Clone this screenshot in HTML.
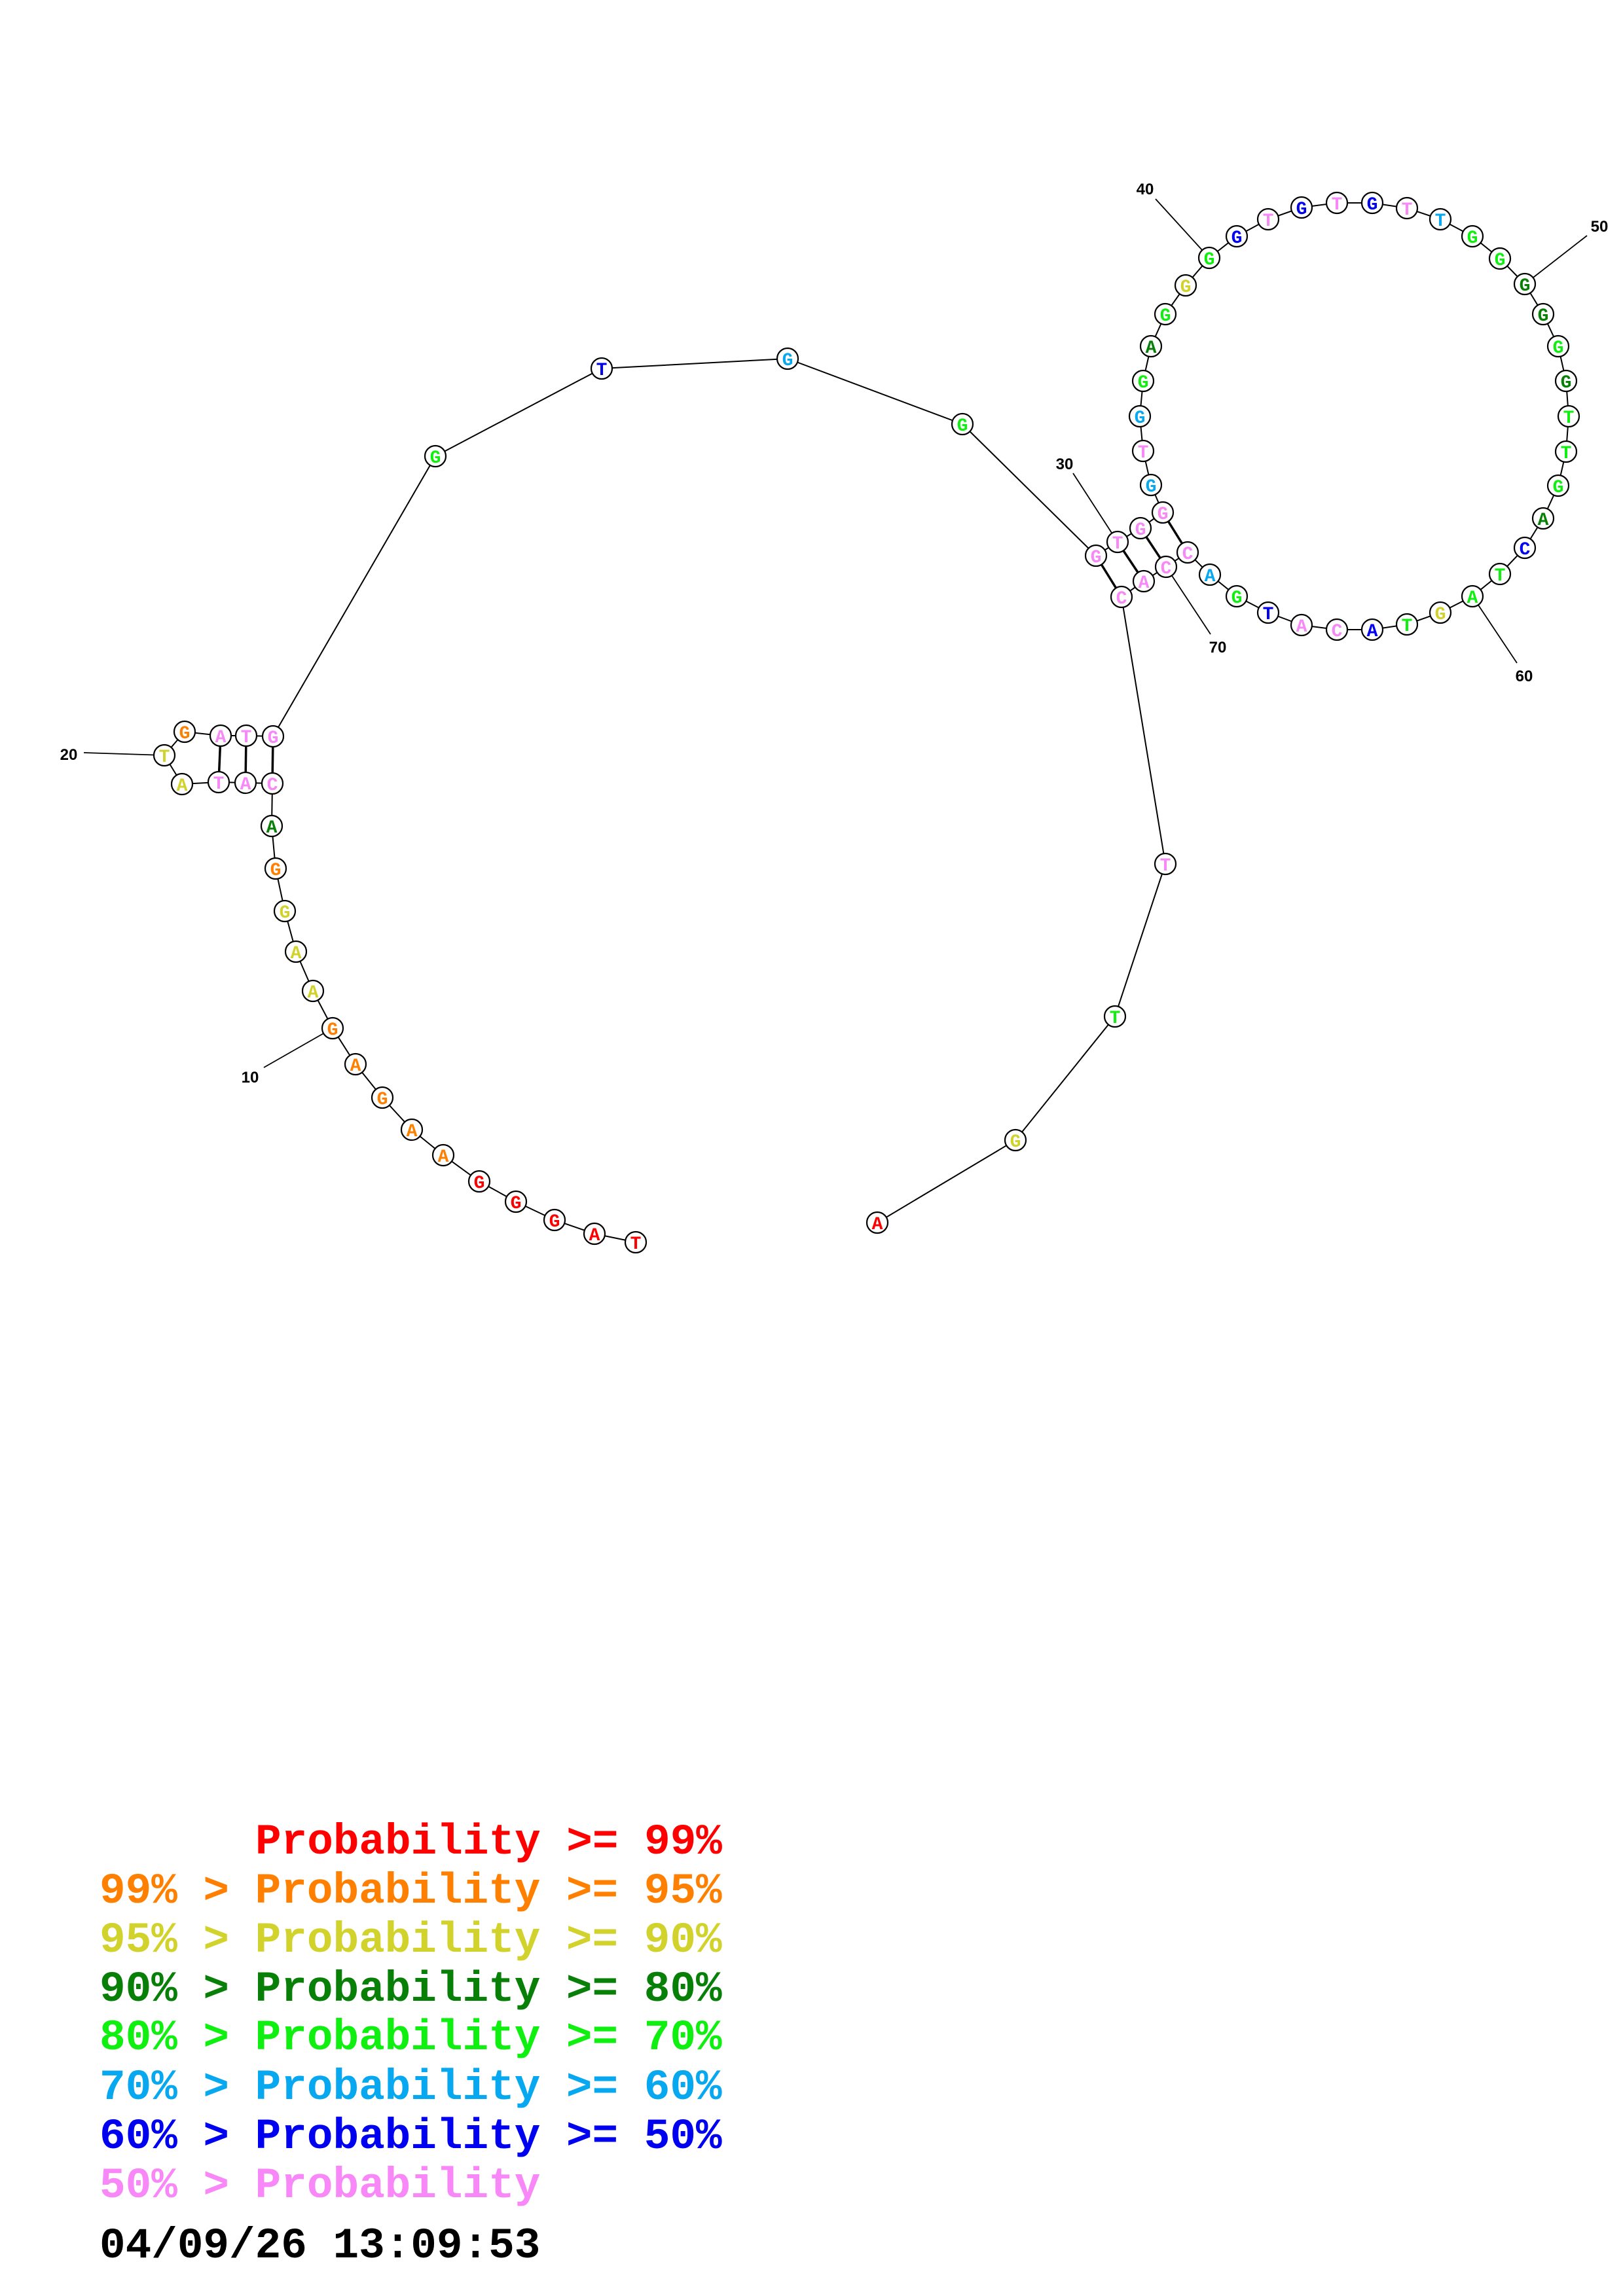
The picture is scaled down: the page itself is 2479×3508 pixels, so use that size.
<!DOCTYPE html>
<html>
<head>
<meta charset="utf-8">
<style>
html,body{margin:0;padding:0;background:#fff;}
svg{display:block;}
.n{font-family:"Liberation Mono",monospace;font-weight:bold;font-size:28px;text-anchor:middle;}
.lb{font-family:"Liberation Sans",sans-serif;font-weight:bold;font-size:24px;text-anchor:middle;fill:#000;}
.lg{font-family:"Liberation Mono",monospace;font-weight:bold;font-size:66px;white-space:pre;}
</style>
</head>
<body>
<svg width="2479" height="3508" viewBox="0 0 2479 3508" xmlns="http://www.w3.org/2000/svg">
<rect width="2479" height="3508" fill="#fff"/>
<!-- backbone -->
<polyline fill="none" stroke="#000" stroke-width="2" points="
971,1898 908,1885 847,1864 788,1836 732,1805 677,1765 629,1726 584,1677 543,1626 508,1571
478,1514 452,1454 435,1392 421,1327 415,1262 416,1197 375,1196 334,1195 278,1198 251,1154
282,1118 337,1124 376,1124 417,1125 665,697 919,563 1203,548 1470,648 1674,849 1707,828
1742,807 1776,783 1758,741 1746,689 1741,636 1746,582 1758,529 1780,480 1811,436 1847,394
1889,361 1937,335 1988,317 2042,310 2096,310 2149,318 2200,335 2249,361 2291,395 2329,434
2357,480 2380,529 2392,582 2396,636 2392,690 2380,742 2357,792 2329,837 2291,877 2249,911
2200,936 2149,954 2096,962 2042,962 1988,955 1937,936 1889,911 1848,878 1814,844 1781,866
1747,888 1713,912 1780,1320 1703,1553 1551,1742 1340,1868"/>
<!-- pairs -->
<g stroke="#000" stroke-width="3.5">
<line x1="416" y1="1197" x2="417" y2="1125"/>
<line x1="375" y1="1196" x2="376" y2="1124"/>
<line x1="334" y1="1195" x2="337" y2="1124"/>
<line x1="1674" y1="849" x2="1713" y2="912"/>
<line x1="1707" y1="828" x2="1747" y2="888"/>
<line x1="1742" y1="807" x2="1781" y2="866"/>
<line x1="1776" y1="783" x2="1814" y2="844"/>
</g>
<!-- label lines -->
<g stroke="#000" stroke-width="1.8">
<line x1="508" y1="1571" x2="403" y2="1631"/>
<line x1="251" y1="1154" x2="128" y2="1150"/>
<line x1="1707" y1="828" x2="1639" y2="723"/>
<line x1="1847" y1="394" x2="1765" y2="304"/>
<line x1="2329" y1="434" x2="2424" y2="360"/>
<line x1="2249" y1="911" x2="2317" y2="1013"/>
<line x1="1781" y1="866" x2="1849" y2="969"/>
</g>
<!-- labels -->
<text class="lb" x="382" y="1654">10</text>
<text class="lb" x="105" y="1161">20</text>
<text class="lb" x="1626" y="717">30</text>
<text class="lb" x="1749" y="297">40</text>
<text class="lb" x="2443" y="354">50</text>
<text class="lb" x="2328" y="1041">60</text>
<text class="lb" x="1860" y="997">70</text>
<!-- circles -->
<g fill="#fff" stroke="#000" stroke-width="2.2">
<circle cx="971" cy="1898" r="16"/><circle cx="908" cy="1885" r="16"/><circle cx="847" cy="1864" r="16"/><circle cx="788" cy="1836" r="16"/><circle cx="732" cy="1805" r="16"/>
<circle cx="677" cy="1765" r="16"/><circle cx="629" cy="1726" r="16"/><circle cx="584" cy="1677" r="16"/><circle cx="543" cy="1626" r="16"/><circle cx="508" cy="1571" r="16"/>
<circle cx="478" cy="1514" r="16"/><circle cx="452" cy="1454" r="16"/><circle cx="435" cy="1392" r="16"/><circle cx="421" cy="1327" r="16"/><circle cx="415" cy="1262" r="16"/>
<circle cx="416" cy="1197" r="16"/><circle cx="375" cy="1196" r="16"/><circle cx="334" cy="1195" r="16"/><circle cx="278" cy="1198" r="16"/><circle cx="251" cy="1154" r="16"/>
<circle cx="282" cy="1118" r="16"/><circle cx="337" cy="1124" r="16"/><circle cx="376" cy="1124" r="16"/><circle cx="417" cy="1125" r="16"/><circle cx="665" cy="697" r="16"/>
<circle cx="919" cy="563" r="16"/><circle cx="1203" cy="548" r="16"/><circle cx="1470" cy="648" r="16"/><circle cx="1674" cy="849" r="16"/><circle cx="1707" cy="828" r="16"/>
<circle cx="1742" cy="807" r="16"/><circle cx="1776" cy="783" r="16"/><circle cx="1758" cy="741" r="16"/><circle cx="1746" cy="689" r="16"/><circle cx="1741" cy="636" r="16"/>
<circle cx="1746" cy="582" r="16"/><circle cx="1758" cy="529" r="16"/><circle cx="1780" cy="480" r="16"/><circle cx="1811" cy="436" r="16"/><circle cx="1847" cy="394" r="16"/>
<circle cx="1889" cy="361" r="16"/><circle cx="1937" cy="335" r="16"/><circle cx="1988" cy="317" r="16"/><circle cx="2042" cy="310" r="16"/><circle cx="2096" cy="310" r="16"/>
<circle cx="2149" cy="318" r="16"/><circle cx="2200" cy="335" r="16"/><circle cx="2249" cy="361" r="16"/><circle cx="2291" cy="395" r="16"/><circle cx="2329" cy="434" r="16"/>
<circle cx="2357" cy="480" r="16"/><circle cx="2380" cy="529" r="16"/><circle cx="2392" cy="582" r="16"/><circle cx="2396" cy="636" r="16"/><circle cx="2392" cy="690" r="16"/>
<circle cx="2380" cy="742" r="16"/><circle cx="2357" cy="792" r="16"/><circle cx="2329" cy="837" r="16"/><circle cx="2291" cy="877" r="16"/><circle cx="2249" cy="911" r="16"/>
<circle cx="2200" cy="936" r="16"/><circle cx="2149" cy="954" r="16"/><circle cx="2096" cy="962" r="16"/><circle cx="2042" cy="962" r="16"/><circle cx="1988" cy="955" r="16"/>
<circle cx="1937" cy="936" r="16"/><circle cx="1889" cy="911" r="16"/><circle cx="1848" cy="878" r="16"/><circle cx="1814" cy="844" r="16"/><circle cx="1781" cy="866" r="16"/>
<circle cx="1747" cy="888" r="16"/><circle cx="1713" cy="912" r="16"/><circle cx="1780" cy="1320" r="16"/><circle cx="1703" cy="1553" r="16"/><circle cx="1551" cy="1742" r="16"/>
<circle cx="1340" cy="1868" r="16"/>
</g>
<!-- nucleotide letters -->
<g class="n">
<text x="971" y="1908" fill="#ff0000">T</text>
<text x="908" y="1895" fill="#ff0000">A</text>
<text x="847" y="1874" fill="#ff0000">G</text>
<text x="788" y="1846" fill="#ff0000">G</text>
<text x="732" y="1815" fill="#ff0000">G</text>
<text x="677" y="1775" fill="#ff8000">A</text>
<text x="629" y="1736" fill="#ff8000">A</text>
<text x="584" y="1687" fill="#ff8000">G</text>
<text x="543" y="1636" fill="#ff8000">A</text>
<text x="508" y="1581" fill="#ff8000">G</text>
<text x="478" y="1524" fill="#d2d22d">A</text>
<text x="452" y="1464" fill="#d2d22d">A</text>
<text x="435" y="1402" fill="#d2d22d">G</text>
<text x="421" y="1337" fill="#ff8000">G</text>
<text x="415" y="1272" fill="#088008">A</text>
<text x="416" y="1207" fill="#f888f8">C</text>
<text x="375" y="1206" fill="#f888f8">A</text>
<text x="334" y="1205" fill="#f888f8">T</text>
<text x="278" y="1208" fill="#d2d22d">A</text>
<text x="251" y="1164" fill="#d2d22d">T</text>
<text x="282" y="1128" fill="#ff8000">G</text>
<text x="337" y="1134" fill="#f888f8">A</text>
<text x="376" y="1134" fill="#f888f8">T</text>
<text x="417" y="1135" fill="#f888f8">G</text>
<text x="665" y="707" fill="#10f010">G</text>
<text x="919" y="573" fill="#0000f0">T</text>
<text x="1203" y="558" fill="#08a8f0">G</text>
<text x="1470" y="658" fill="#10f010">G</text>
<text x="1674" y="859" fill="#f888f8">G</text>
<text x="1707" y="838" fill="#f888f8">T</text>
<text x="1742" y="817" fill="#f888f8">G</text>
<text x="1776" y="793" fill="#f888f8">G</text>
<text x="1758" y="751" fill="#08a8f0">G</text>
<text x="1746" y="699" fill="#f888f8">T</text>
<text x="1741" y="646" fill="#08a8f0">G</text>
<text x="1746" y="592" fill="#10f010">G</text>
<text x="1758" y="539" fill="#088008">A</text>
<text x="1780" y="490" fill="#10f010">G</text>
<text x="1811" y="446" fill="#d2d22d">G</text>
<text x="1847" y="404" fill="#10f010">G</text>
<text x="1889" y="371" fill="#0000f0">G</text>
<text x="1937" y="345" fill="#f888f8">T</text>
<text x="1988" y="327" fill="#0000f0">G</text>
<text x="2042" y="320" fill="#f888f8">T</text>
<text x="2096" y="320" fill="#0000f0">G</text>
<text x="2149" y="328" fill="#f888f8">T</text>
<text x="2200" y="345" fill="#08a8f0">T</text>
<text x="2249" y="371" fill="#10f010">G</text>
<text x="2291" y="405" fill="#10f010">G</text>
<text x="2329" y="444" fill="#088008">G</text>
<text x="2357" y="490" fill="#088008">G</text>
<text x="2380" y="539" fill="#10f010">G</text>
<text x="2392" y="592" fill="#088008">G</text>
<text x="2396" y="646" fill="#10f010">T</text>
<text x="2392" y="700" fill="#10f010">T</text>
<text x="2380" y="752" fill="#10f010">G</text>
<text x="2357" y="802" fill="#088008">A</text>
<text x="2329" y="847" fill="#0000f0">C</text>
<text x="2291" y="887" fill="#10f010">T</text>
<text x="2249" y="921" fill="#10f010">A</text>
<text x="2200" y="946" fill="#d2d22d">G</text>
<text x="2149" y="964" fill="#10f010">T</text>
<text x="2096" y="972" fill="#0000f0">A</text>
<text x="2042" y="972" fill="#f888f8">C</text>
<text x="1988" y="965" fill="#f888f8">A</text>
<text x="1937" y="946" fill="#0000f0">T</text>
<text x="1889" y="921" fill="#10f010">G</text>
<text x="1848" y="888" fill="#08a8f0">A</text>
<text x="1814" y="854" fill="#f888f8">C</text>
<text x="1781" y="876" fill="#f888f8">C</text>
<text x="1747" y="898" fill="#f888f8">A</text>
<text x="1713" y="922" fill="#f888f8">C</text>
<text x="1780" y="1330" fill="#f888f8">T</text>
<text x="1703" y="1563" fill="#10f010">T</text>
<text x="1551" y="1752" fill="#d2d22d">G</text>
<text x="1340" y="1878" fill="#ff0000">A</text>
</g>
<!-- legend -->
<g class="lg">
<text x="390" y="2832" fill="#ff0000">Probability &gt;= 99%</text>
<text x="152" y="2907" fill="#ff8000">99% &gt; Probability &gt;= 95%</text>
<text x="152" y="2982" fill="#d2d22d">95% &gt; Probability &gt;= 90%</text>
<text x="152" y="3057" fill="#088008">90% &gt; Probability &gt;= 80%</text>
<text x="152" y="3131" fill="#10f010">80% &gt; Probability &gt;= 70%</text>
<text x="152" y="3207" fill="#08a8f0">70% &gt; Probability &gt;= 60%</text>
<text x="152" y="3282" fill="#0000f0">60% &gt; Probability &gt;= 50%</text>
<text x="152" y="3357" fill="#f888f8">50% &gt; Probability</text>
<text x="152" y="3449" fill="#000000">04/09/26 13:09:53</text>
</g>
</svg>
</body>
</html>
